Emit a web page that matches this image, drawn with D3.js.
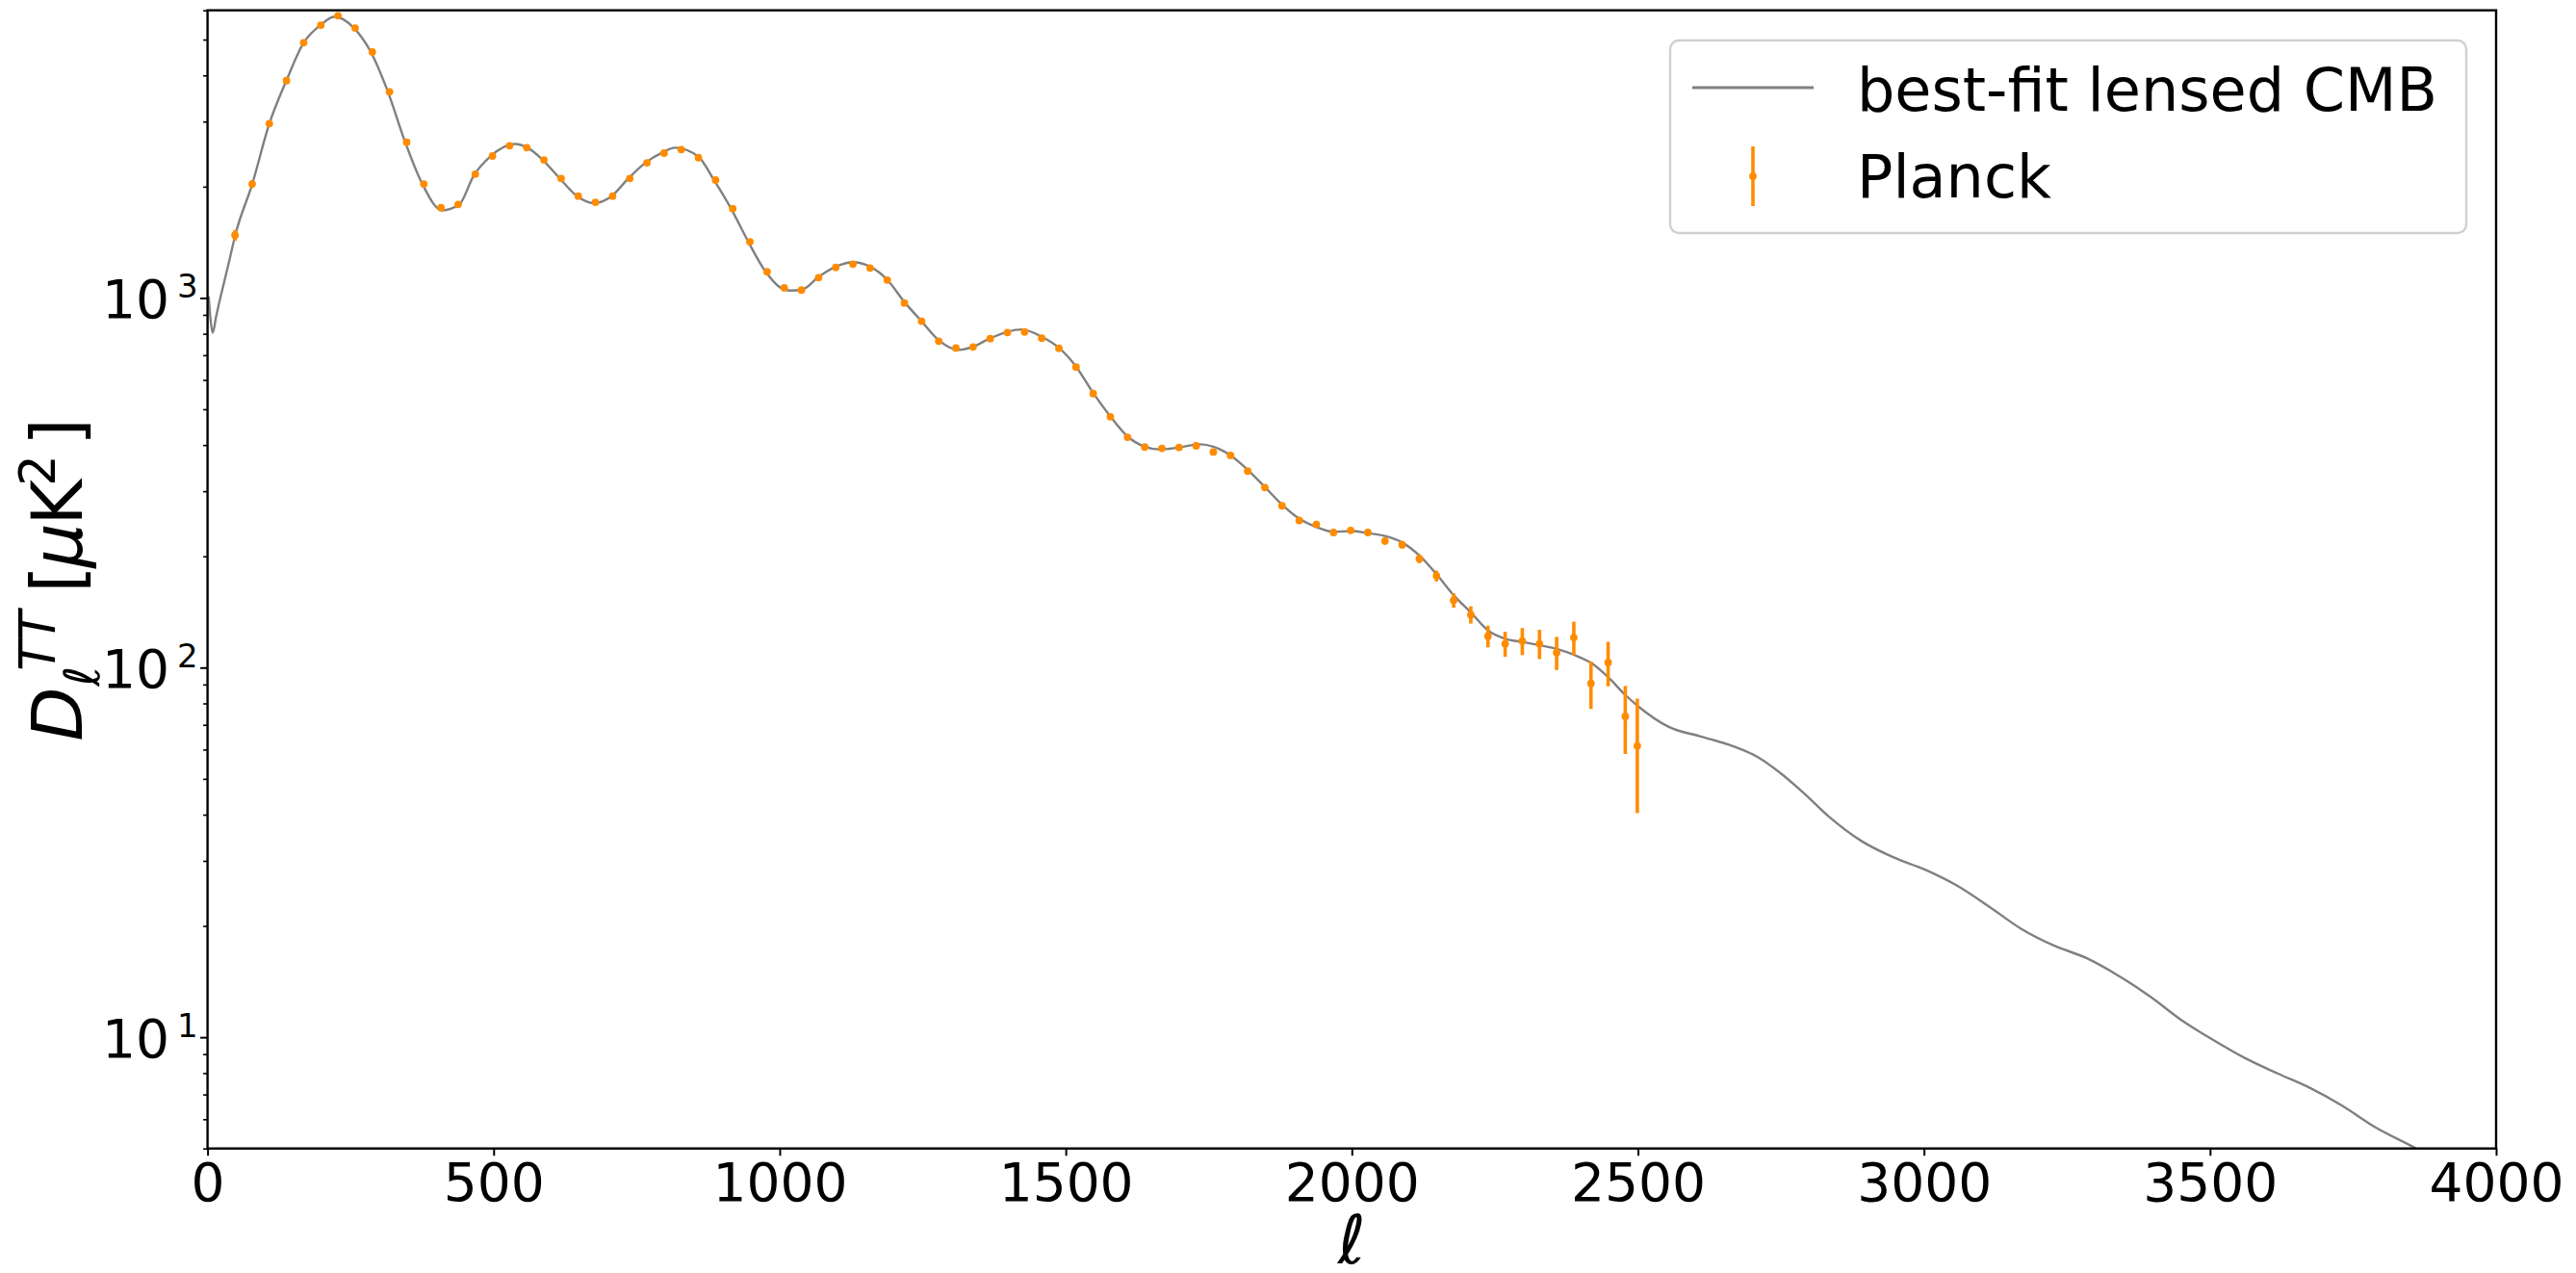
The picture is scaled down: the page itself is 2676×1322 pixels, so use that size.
<!DOCTYPE html>
<html><head><meta charset="utf-8">
<script src="https://cdn.jsdelivr.net/npm/d3@7"></script>
<style>
body{margin:0;background:#fff}
text{font-family:"DejaVu Sans",sans-serif;fill:#000}
</style>
</head><body>
<svg id="chart" width="2676" height="1322"></svg>
<script>
// ---- Planck binned data ----
const dataEll = [48,78,108,138,168,198,228,258,288,318,348,378,408,438,468,498,528,558,588,618,
  648,678,708,738,768,798,828,858,888,918,948,978,1008,1038,1068,1098,1128,1158,1188,1218,
  1248,1278,1308,1338,1368,1398,1428,1458,1488,1518,1548,1578,1608,1638,1668,1698,1728,1758,1788,1818,
  1848,1878,1908,1938,1968,1998,2028,2058,2088,2118,2148,2178,2208,2238,2268,2298,2328,2358,2388,2418,
  2448,2478,2499];
const dataD = [1478,2034,2963,3871,4903,5472,5800,5375,4627,3611,2638,2034,1754,1790,2163,2421,2581,2551,2363,2105,
  1885,1815,1885,2105,2321,2465,2520,2396,2084,1744,1419,1177,1065,1050,1135,1210,1234,1205,1118,969,
  865,764,732,737,776,806,809,778,731,650,551,477,420,395,392,394,398,383,375,340,
  307,274,250,244,232,235,232,220,215,197,177,152,139,121.6,116,118,116,109.8,120.6,90.6,
  103.2,73.8,61.4];
const dataErr = [50,50,55,60,65,65,65,60,50,42,33,27,23,22,23,25,25,24,22,20,
  18,17,17,18,19,19,19,18,16,14,12,10,9,9,9,9,9,9,8,7.5,
  7,6.5,6,6,6,6,6,6,5.5,5,5,4.5,4.5,4.5,4.5,4.5,4.5,4.5,4.5,4.5,
  4.5,4.5,4.5,4.5,4.5,4.5,4.6,4.8,5.0,5.4,6.0,6.8,7.5,8.2,9.0,9.9,10.6,11.3,12.5,13.3,
  14.2,15.4,21];

// ---- best-fit lensed CMB curve ----
const theoryEll = [2,5,9,15,20,30,40,48,78,108,138,168,198,222,255,285,315,345,375,410,
  440,465,495,537,560,585,615,645,675,705,735,765,795,817,858,885,915,945,975,1000,
  1019,1040,1068,1098,1128,1158,1188,1218,1248,1278,1313,1338,1368,1398,1423,1458,1488,1518,1548,1578,
  1608,1638,1665,1698,1735,1758,1788,1818,1848,1878,1908,1938,1968,2000,2028,2058,2088,2118,2148,2178,
  2208,2238,2268,2298,2328,2358,2388,2418,2448,2478,2500,2554,2610,2666,2711,2750,2789,2834,2890,2946,
  3002,3058,3115,3171,3227,3283,3339,3395,3451,3507,3563,3619,3675,3731,3787,3860,3900];
const theoryD = [1010,880,805,890,965,1120,1300,1470,2030,2960,3880,4900,5480,5770,5390,4640,3620,2650,2040,1725,
  1790,2140,2420,2610,2545,2370,2110,1890,1805,1880,2100,2320,2475,2550,2410,2085,1745,1420,1180,1070,
  1047,1055,1140,1215,1250,1215,1120,975,865,768,724,738,778,810,822,785,733,652,553,478,
  422,396,389,394,402,396,375,343,308,276,253,240,233,234,231,227,218,201,179,157,
  141,126,119.7,117.3,115,112.3,108.3,103,94.2,84.3,78.7,69.1,65.1,61.3,57.1,51.7,45.9,39.5,34.0,30.7,
  28.4,25.7,22.5,19.6,17.7,16.4,14.7,12.9,11.1,9.8,8.75,7.97,7.29,6.53,5.73,5.0,4.6];

const xTicks = [0,500,1000,1500,2000,2500,3000,3500,4000];
const yTicks = [10,100,1000];
const yTickExp = ["1","2","3"];
const legendLabels = ["best-fit lensed CMB","Planck"];

// ---- layout ----
const L = 215.6, R = 2593, T = 10.7, B = 1192.7;
const svg = d3.select("#chart");

const x = d3.scaleLinear().domain([0,4000]).range([L,R]);
const y = d3.scaleLog().domain([5,6000]).range([B,T]);

svg.append("defs").append("clipPath").attr("id","clip")
  .append("rect").attr("x",L).attr("y",T).attr("width",R-L).attr("height",B-T);

// theory line
const theory = theoryEll.map((l,i)=>[l,theoryD[i]]);
const line = d3.line().x(d=>x(d[0])).y(d=>y(d[1])).curve(d3.curveMonotoneX);
svg.append("path").attr("clip-path","url(#clip)")
  .attr("d",line(theory)).attr("fill","none").attr("stroke","#808080").attr("stroke-width",2.4);

// data with error bars
const data = dataEll.map((l,i)=>({l, d:dataD[i], e:dataErr[i]}));
const g = svg.append("g").attr("clip-path","url(#clip)");
g.selectAll("line.eb").data(data).join("line").attr("class","eb")
  .attr("x1",d=>x(d.l)).attr("x2",d=>x(d.l))
  .attr("y1",d=>y(d.d-d.e)).attr("y2",d=>y(d.d+d.e))
  .attr("stroke","#ff8c00").attr("stroke-width",3.6);
g.selectAll("circle").data(data).join("circle")
  .attr("cx",d=>x(d.l)).attr("cy",d=>y(d.d)).attr("r",3.9).attr("fill","#ff8c00");

// x axis
const xAxis = svg.append("g").attr("transform",`translate(0,${B})`)
  .call(d3.axisBottom(x).tickValues(xTicks).tickSize(7.5).tickSizeOuter(0).tickFormat(d3.format("d")));
xAxis.select(".domain").remove();
xAxis.selectAll(".tick line").attr("stroke","#000").attr("stroke-width",2);
xAxis.selectAll(".tick text").attr("y",54).attr("dy",null)
  .style("font-family","'DejaVu Sans'").style("font-size","55px").attr("fill","#000");

// y axis major
const yAxis = svg.append("g").attr("transform",`translate(${L},0)`)
  .call(d3.axisLeft(y).tickValues(yTicks).tickSize(7.5).tickSizeOuter(0).tickFormat(""));
yAxis.select(".domain").remove();
yAxis.selectAll(".tick line").attr("stroke","#000").attr("stroke-width",2);
// minor
const minor = y.ticks().filter(v => Math.abs(Math.log10(v) - Math.round(Math.log10(v))) > 1e-6);
const yMinor = svg.append("g").attr("transform",`translate(${L},0)`)
  .call(d3.axisLeft(y).tickValues(minor).tickSize(4.5).tickSizeOuter(0).tickFormat(""));
yMinor.select(".domain").remove();
yMinor.selectAll(".tick line").attr("stroke","#000").attr("stroke-width",1.6);

// y tick labels 10^n
yTicks.forEach((v,i)=>{
  const t = svg.append("text").attr("x",L-10).attr("y",y(v)+20.5)
    .attr("text-anchor","end").style("font-size","55px");
  t.append("tspan").text("10");
  t.append("tspan").attr("dx",8).attr("dy",-21).style("font-size","34px").text(yTickExp[i]);
});

// frame
svg.append("rect").attr("x",L).attr("y",T).attr("width",R-L).attr("height",B-T)
  .attr("fill","none").attr("stroke","#000").attr("stroke-width",2.4);

// x label
svg.append("text").attr("x",(L+R)/2).attr("y",1312).attr("text-anchor","middle")
  .style("font-size","70px").style("font-style","italic").text("ℓ");

// y label (rotated)
const yl = svg.append("g").attr("transform",`translate(85,${(T+B)/2}) rotate(-90)`);
const pieces = [
  {t:"D", x:-168, y:0, s:73, i:true},
  {t:"ℓ", x:-111, y:18, s:51, i:true},
  {t:"TT", x:-95, y:-28, s:51, i:true},
  {t:"[", x:-14, y:0, s:73, i:false},
  {t:"μ", x:12, y:0, s:73, i:true},
  {t:"K", x:56, y:0, s:73, i:false},
  {t:"2", x:97, y:-28, s:51, i:false},
  {t:"]", x:139, y:0, s:73, i:false}
];
pieces.forEach(p=>{
  yl.append("text").attr("x",p.x).attr("y",p.y).style("font-size",p.s+"px")
    .style("font-style",p.i?"italic":"normal").text(p.t);
});

// legend
const lg = svg.append("g");
lg.append("rect").attr("x",1735).attr("y",42).attr("width",827).attr("height",200).attr("rx",9)
  .attr("fill","#fff").attr("fill-opacity",0.8).attr("stroke","#d0d0d0").attr("stroke-width",2.4);
lg.append("line").attr("x1",1758).attr("x2",1884).attr("y1",91).attr("y2",91)
  .attr("stroke","#808080").attr("stroke-width",2.8);
lg.append("line").attr("x1",1821).attr("x2",1821).attr("y1",152).attr("y2",214)
  .attr("stroke","#ff8c00").attr("stroke-width",3.6);
lg.append("circle").attr("cx",1821).attr("cy",183).attr("r",3.9).attr("fill","#ff8c00");
lg.selectAll("text.lt").data(legendLabels).join("text").attr("class","lt")
  .attr("x",1929).attr("y",(d,i)=>i===0?115:205).style("font-size","62px").text(d=>d);
</script>
</body></html>
